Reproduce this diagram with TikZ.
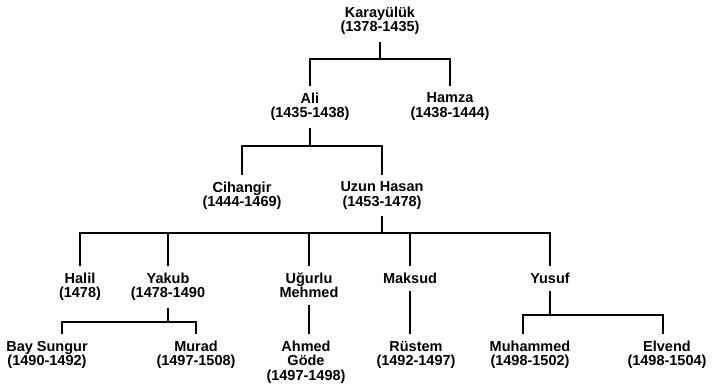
\documentclass[tikz,border=0pt]{standalone}
\usepackage{fontspec}
\setmainfont{Liberation Sans}
\tikzset{>=latex}
\tikzset{kisi/.style={align=center, font=\fontsize{14.5}{14.3}\selectfont\bfseries, inner sep=0pt, outer xsep=0pt, outer ysep=7pt, anchor=north}}

\begin{document}
\begin{tikzpicture}[x=1pt, y=-1pt, line width=1.9pt]
      \useasboundingbox (0,0) rectangle (713,385);
      \node[kisi] (n0) at (380,0) {Karayülük\\(1378-1435)};
      \node[kisi] (n1) at (310,86) {Ali\\(1435-1438)};
      \node[kisi] (n2) at (450,86) {Hamza\\(1438-1444)};
      \node[kisi] (n3) at (242,175) {Cihangir\\(1444-1469)};
      \node[kisi] (n4) at (382,175) {Uzun Hasan\\(1453-1478)};
      \node[kisi] (n5) at (80,266) {Halil\\(1478)};
      \node[kisi] (n6) at (168,266) {Yakub\\(1478-1490};
      \node[kisi] (n7) at (309,266) {Uğurlu\\Mehmed};
      \node[kisi] (n8) at (410,266) {Maksud};
      \node[kisi] (n9) at (550,266) {Yusuf};
      \node[kisi] (n10) at (47,334) {Bay Sungur\\(1490-1492)};
      \node[kisi] (n11) at (196,334) {Murad\\(1497-1508)};
      \node[kisi] (n12) at (306,334) {Ahmed\\Göde\\(1497-1498)};
      \node[kisi] (n13) at (416,334) {Rüstem\\(1492-1497)};
      \node[kisi] (n14) at (530,334) {Muhammed\\(1498-1502)};
      \node[kisi] (n15) at (667,334) {Elvend\\(1498-1504)};
      \coordinate (aux1) at (380,59);
      \coordinate (aux2) at (310,146);
      \coordinate (aux3) at (382,233);
      \coordinate (aux4) at (168,322);
      \coordinate (aux5) at (550,315);
      \draw (n0) -- (aux1);
      \draw (n1) |- (aux1) -| (n2);
      \draw (n1) -- (aux2);
      \draw (n3) |- (aux2) -| (n4);
      \draw (n4) -- (aux3);
      \draw (n5) |- (aux3) -| (n9);
      \draw (n6) -- (n6 |- aux3);
      \draw (n7) -- (n7 |- aux3);
      \draw (n8) -- (n8 |- aux3);
      \draw (n6) -- (aux4);
      \draw ([xshift=15pt]n10.north) |- (aux4) -| (n11);
      \draw (n7) -- (n7 |- n12.north);
      \draw (n8) -- (n8 |- n13.north);
      \draw (n9) -- (aux5);
      \draw ([xshift=-7pt]n14.north) |- (aux5) -| ([xshift=-4pt]n15.north);
    \end{tikzpicture}
\end{document}
